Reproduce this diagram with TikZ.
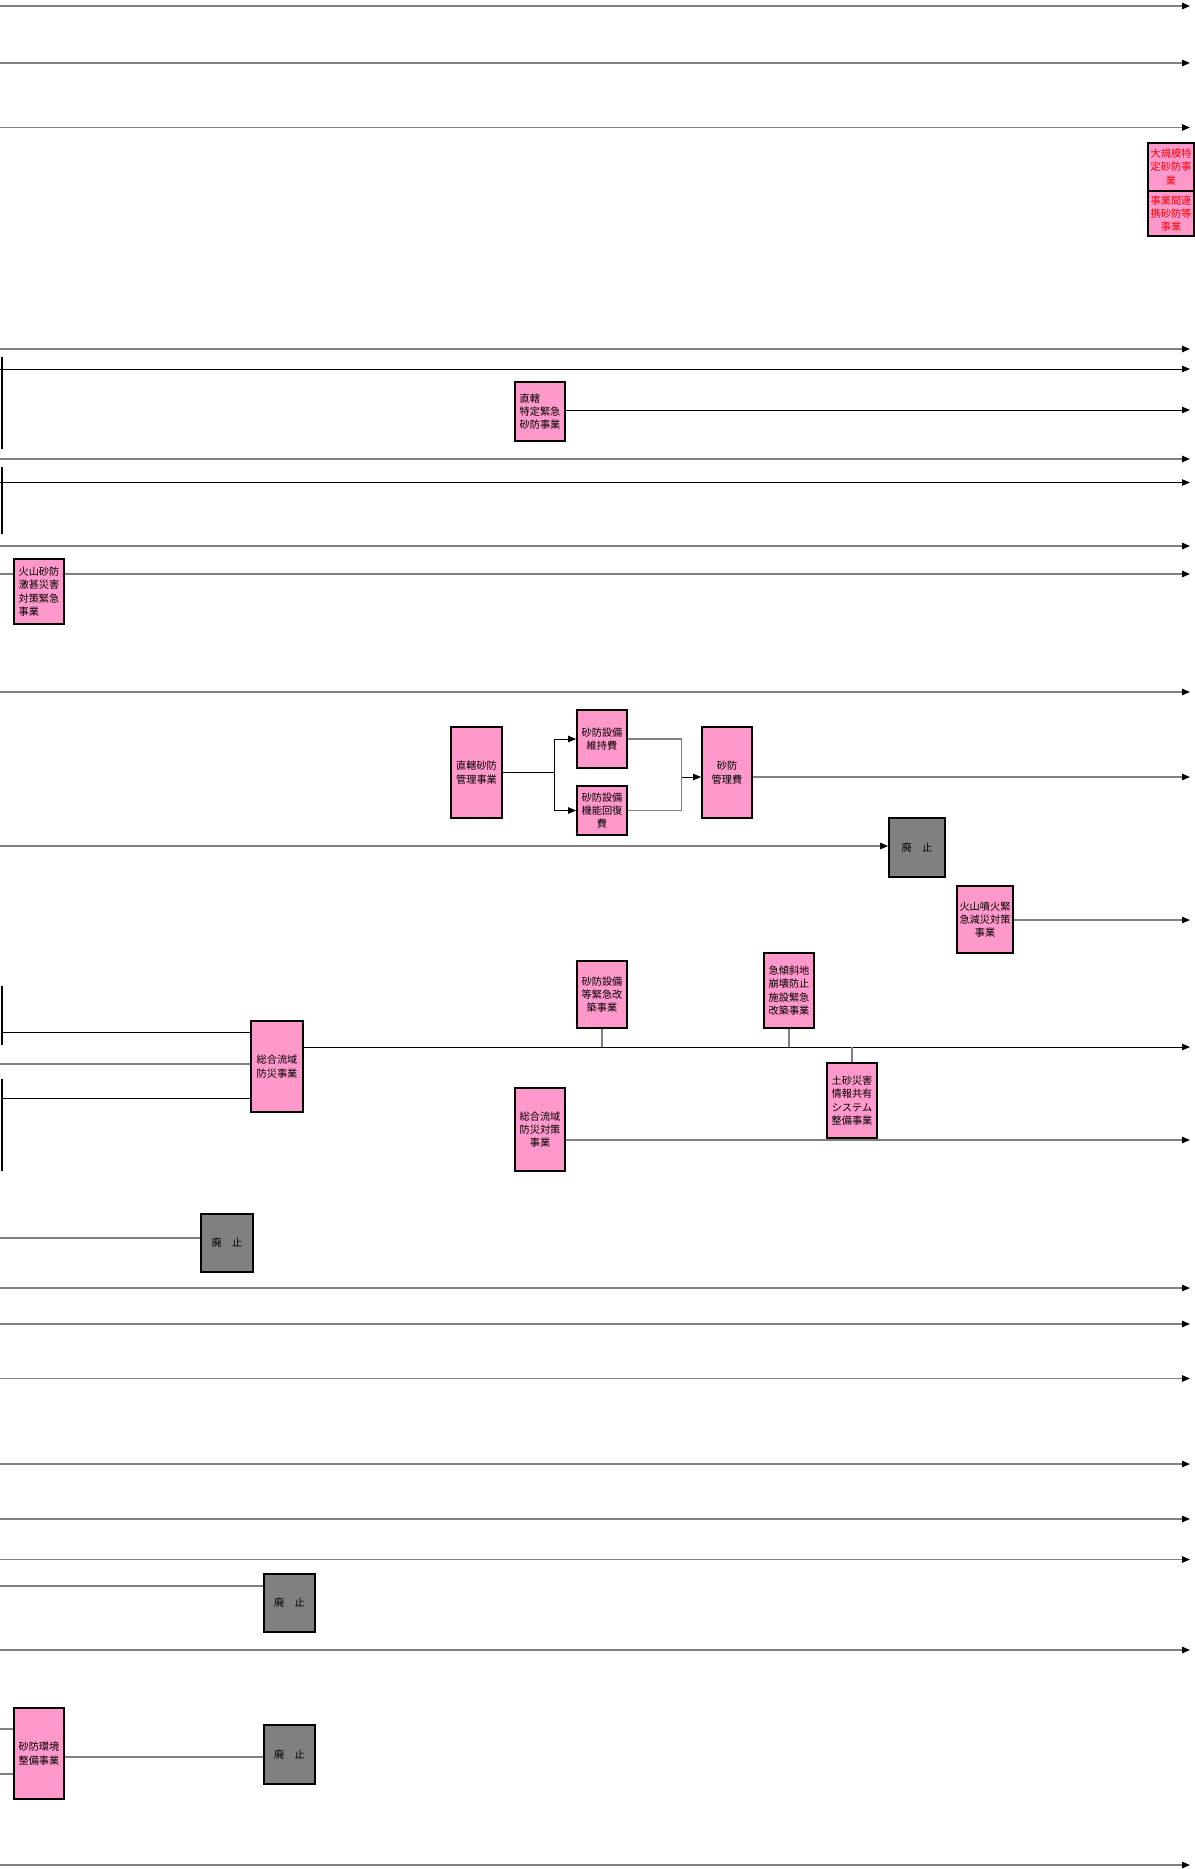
\documentclass[tikz,border=0pt]{standalone}
\usepackage{fontspec}
\setmainfont{Noto Sans CJK JP}
\usepackage{tikz}
\usetikzlibrary{arrows.meta,positioning,calc}

\definecolor{boxpink}{HTML}{FF99CC}
\definecolor{boxgray}{HTML}{808080}
\definecolor{linegray}{HTML}{808080}
\definecolor{boxred}{HTML}{FF0000}

\tikzset{
  jbox/.style={draw=black, line width=1pt, fill=boxpink, inner sep=1pt,
    align=center, font=\fontsize{5.8}{7.6}\selectfont},
  stopbox/.style={jbox, fill=boxgray},
  gline/.style={draw=linegray, line width=0.8pt},
  bline/.style={draw=black, line width=0.5pt},
  vbar/.style={draw=black, line width=1pt},
}

\begin{document}
\begin{tikzpicture}[x=0.02cm,y=-0.02cm,>={Triangle[length=4.5pt,width=3.6pt,color=black]}]
\useasboundingbox (0,0) rectangle (1195,1869);

% plain lines running through
\foreach \y in {6,63,127.5,349,459,546,692,1288,1324,1378.5,1464,1519,1559.5,1650,1865}
  \draw[gline,->] (0,\y) -- (1190,\y);
\foreach \y in {369,482.5}
  \draw[bline,->] (0,\y) -- (1190,\y);

\draw[vbar] (2,357) -- (2,449);
\draw[vbar] (2,467) -- (2,534);
\draw[vbar] (2,986) -- (2,1045);
\draw[vbar] (2,1079) -- (2,1171);

% top right
\node[jbox, text=boxred, minimum width=0.92cm, minimum height=0.96cm] (tokutei) at (1171,167) {大規模特\\定砂防事\\業};
\node[jbox, text=boxred, minimum width=0.92cm, minimum height=0.9cm] (renkei) at (1171,213.5) {事業間連\\携砂防等\\事業};

% 直轄特定緊急
\node[jbox, align=left, minimum width=1cm, minimum height=1.18cm] (chokkatsu-kinkyu) at (540,411.5) {直轄\\特定緊急\\砂防事業};
\coordinate (kinkyu-end) at (1190,410);
\draw[bline,->] (chokkatsu-kinkyu.east |- kinkyu-end) -- (kinkyu-end);

% 火山砂防
\node[jbox, align=left, minimum width=1cm, minimum height=1.3cm] (kazan-gekijin) at (39,591.5) {火山砂防\\激甚災害\\対策緊急\\事業};
\coordinate (gekijin-in) at (0,574);
\coordinate (gekijin-end) at (1190,574);
\draw[gline] (gekijin-in) -- (kazan-gekijin.west |- gekijin-in);
\draw[gline,->] (kazan-gekijin.east |- gekijin-end) -- (gekijin-end);

% 直轄砂防管理
\node[jbox, minimum width=1.02cm, minimum height=1.82cm] (kanri) at (476.5,772.5) {直轄砂防\\管理事業};
\node[jbox, minimum width=1cm, minimum height=1.16cm] (iji) at (602,739) {砂防設備\\維持費};
\node[jbox, minimum width=1cm, minimum height=0.98cm] (kaifuku) at (602,810.5) {砂防設備\\機能回復\\費};
\node[jbox, minimum width=1cm, minimum height=1.82cm] (kanrihi) at (727,772.5) {砂防\\管理費};
\coordinate (split) at (554,772);
\coordinate (merge) at (681.5,777);
\coordinate (kanrihi-end) at (1190,777);
\draw[bline] (kanri.east |- split) -- (split);
\draw[bline,->] (split) |- (iji.west);
\draw[bline,->] (split) |- (kaifuku.west);
\draw[gline] (iji.east) -| (merge) |- (kaifuku.east);
\draw[bline,->] (merge) -- (kanrihi.west |- merge);
\draw[gline,->] (kanrihi.east |- kanrihi-end) -- (kanrihi-end);

% 廃止 (1)
\node[stopbox, minimum width=1.12cm, minimum height=1.18cm] (haishi-a) at (917,847.5) {廃\hspace{1em}止};
\coordinate (haishi-a-in) at (0,846);
\draw[gline,->] (haishi-a-in) -- (haishi-a.west |- haishi-a-in);

% 火山噴火
\node[jbox, minimum width=1.12cm, minimum height=1.34cm] (funka) at (985,919.5) {火山噴火緊\\急減災対策\\事業};
\coordinate (funka-end) at (1190,920);
\draw[gline,->] (funka.east |- funka-end) -- (funka-end);

% 総合流域防災
\node[jbox, minimum width=1.04cm, minimum height=1.82cm] (sogo) at (277,1066.5) {総合流域\\防災事業};
\coordinate (sogo-in-a) at (2,1032);
\coordinate (sogo-in-b) at (0,1064);
\coordinate (sogo-in-c) at (2,1098);
\coordinate (sogo-end) at (1190,1047);
\draw[bline] (sogo-in-a) -- (sogo.west |- sogo-in-a);
\draw[gline] (sogo-in-b) -- (sogo.west |- sogo-in-b);
\draw[bline] (sogo-in-c) -- (sogo.west |- sogo-in-c);
\draw[bline,->] (sogo.east |- sogo-end) -- (sogo-end);

\node[jbox, minimum width=1cm, minimum height=1.34cm] (kaichiku) at (602,994.5) {砂防設備\\等緊急改\\築事業};
\node[jbox, minimum width=1cm, minimum height=1.5cm] (kyukeisha) at (789,990.5) {急傾斜地\\崩壊防止\\施設緊急\\改築事業};
\node[jbox, minimum width=1cm, minimum height=1.5cm] (joho) at (852,1100.5) {土砂災害\\情報共有\\システム\\整備事業};
\draw[gline] (kaichiku.south) -- (kaichiku.south |- sogo-end);
\draw[gline] (kyukeisha.south) -- (kyukeisha.south |- sogo-end);
\draw[gline] (joho.north |- sogo-end) -- (joho.north);

\node[jbox, minimum width=1cm, minimum height=1.66cm] (sogo-taisaku) at (540,1129.5) {総合流域\\防災対策\\事業};
\coordinate (taisaku-end) at (1190,1140);
\draw[gline,->] (sogo-taisaku.east |- taisaku-end) -- (taisaku-end);

% 廃止 (2), (3)
\node[stopbox, minimum width=1.04cm, minimum height=1.16cm] (haishi-b) at (227,1243) {廃\hspace{1em}止};
\coordinate (haishi-b-in) at (0,1238);
\draw[gline] (haishi-b-in) -- (haishi-b.west |- haishi-b-in);

\node[stopbox, minimum width=1.02cm, minimum height=1.16cm] (haishi-c) at (289.5,1603) {廃\hspace{1em}止};
\coordinate (haishi-c-in) at (0,1586);
\draw[gline] (haishi-c-in) -- (haishi-c.west |- haishi-c-in);

% 砂防環境整備
\node[jbox, minimum width=1cm, minimum height=1.82cm] (kankyo) at (39,1753.5) {砂防環境\\整備事業};
\node[stopbox, minimum width=1.02cm, minimum height=1.18cm] (haishi-d) at (289.5,1754.5) {廃\hspace{1em}止};
\coordinate (kankyo-in-a) at (0,1729);
\coordinate (kankyo-in-b) at (0,1774);
\coordinate (kankyo-out) at (0,1757);
\draw[gline] (kankyo-in-a) -- (kankyo.west |- kankyo-in-a);
\draw[gline] (kankyo-in-b) -- (kankyo.west |- kankyo-in-b);
\draw[gline] (kankyo.east |- kankyo-out) -- (haishi-d.west |- kankyo-out);
\end{tikzpicture}
\end{document}
